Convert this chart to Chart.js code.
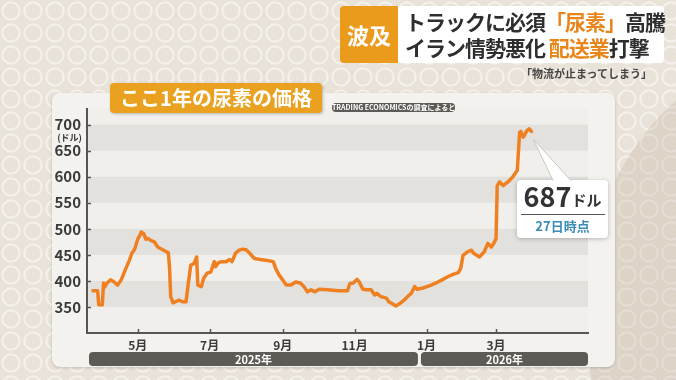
<!DOCTYPE html>
<html>
<head>
<meta charset="utf-8">
<script src="https://cdn.jsdelivr.net/npm/chart.js@4.4.1/dist/chart.umd.min.js"></script>
<style>
  html, body { margin: 0; padding: 0; }
  body {
    width: 676px; height: 380px; overflow: hidden; position: relative;
    font-family: "Noto Sans CJK JP", sans-serif;
    background-color: #e9e2d8;
    background-image: radial-gradient(circle, transparent 7px, rgba(255,255,255,.5) 8px, rgba(255,255,255,.5) 9px, transparent 10px);
    background-size: 22px 22px;
  }
  #side {
    position: absolute; left: 585px; top: 55px; width: 420px; height: 520px;
    border-radius: 50%; background: rgba(200,186,170,.35);
  }
  #panel {
    position: absolute; left: 52px; top: 93px; width: 563px; height: 274px;
    background: #f4f2ee; border-radius: 8px; box-shadow: 0 1px 3px rgba(0,0,0,.18);
  }
  #wrap { position: absolute; left: 0; top: 0; }
  #title {
    position: absolute; left: 110px; top: 83px; width: 212px; height: 30px;
    background: #e9a11f; border-radius: 4px; color: #fff;
    font-size: 20px; font-weight: bold; line-height: 30px; text-align: center;
    box-shadow: 1px 1px 3px rgba(0,0,0,.25);
  }
  #source {
    position: absolute; left: 332px; top: 103px; width: 123px; height: 9px;
    background: #5d5b56; border-radius: 4px; color: #fff;
    font-size: 7px; font-weight: bold; line-height: 9px; text-align: center; white-space: nowrap;
  }
  #tag {
    position: absolute; left: 340px; top: 6px; width: 58px; height: 57px;
    background: #eb9b1b; border-radius: 4px 0 0 4px; color: #fff;
    font-size: 22px; font-weight: bold; line-height: 57px; text-align: center;
  }
  #headline {
    position: absolute; left: 398px; top: 6px; width: 266px; height: 57px;
    background: #fff; border-radius: 0 4px 4px 0; color: #2e2e2e;
    font-size: 21px; font-weight: bold; line-height: 26px; letter-spacing: -1px;
    padding: 2px 0 0 7px; box-sizing: border-box; white-space: nowrap;
  }
  #headline .o { color: #e8861c; }
  #quote {
    position: absolute; right: 24px; top: 65px;
    font-size: 11px; font-weight: bold; color: #444; white-space: nowrap;
  }
</style>
</head>
<body>
<div id="side"></div>
<div id="panel"></div>
<div id="wrap"><canvas id="myChart" width="676" height="380"></canvas></div>
<div id="title">ここ1年の尿素の価格</div>
<div id="source">TRADING ECONOMICSの調査によると</div>
<div id="tag">波及</div>
<div id="headline">
  <div>トラックに必須<span class="o">「尿素」</span>高騰</div>
  <div>イラン情勢悪化 <span class="o">配送業</span>打撃</div>
</div>
<div id="quote">「物流が止まってしまう」</div>

<script>
const FONT = '"Noto Sans CJK JP", sans-serif';

const dates = [
  '2025-03-24','2025-03-28','2025-03-29','2025-04-01','2025-04-02','2025-04-03','2025-04-05','2025-04-08','2025-04-11','2025-04-14','2025-04-17','2025-04-21','2025-04-24','2025-04-26','2025-04-28','2025-04-29',
  '2025-05-01','2025-05-03','2025-05-04','2025-05-06','2025-05-08','2025-05-09','2025-05-12','2025-05-15','2025-05-18','2025-05-23','2025-05-27','2025-05-28','2025-05-29','2025-05-31',
  '2025-06-02','2025-06-05','2025-06-08','2025-06-11','2025-06-13','2025-06-15','2025-06-18','2025-06-20','2025-06-21','2025-06-24','2025-06-26','2025-06-29',
  '2025-07-02','2025-07-05','2025-07-06','2025-07-08','2025-07-11','2025-07-15','2025-07-18','2025-07-20','2025-07-23','2025-07-26','2025-07-29',
  '2025-08-01','2025-08-04','2025-08-08','2025-08-13','2025-08-19','2025-08-24','2025-08-26','2025-08-29',
  '2025-09-01','2025-09-04','2025-09-08','2025-09-12','2025-09-16','2025-09-19','2025-09-22','2025-09-25','2025-09-28',
  '2025-10-02','2025-10-09','2025-10-18','2025-10-26','2025-10-28','2025-10-31',
  '2025-11-03','2025-11-05','2025-11-08','2025-11-11','2025-11-15','2025-11-18','2025-11-20','2025-11-23','2025-11-28','2025-11-30',
  '2025-12-03','2025-12-06','2025-12-09','2025-12-13','2025-12-16','2025-12-19','2025-12-22','2025-12-24','2025-12-30',
  '2026-01-05','2026-01-10','2026-01-15','2026-01-19','2026-01-24','2026-01-28','2026-01-30',
  '2026-02-01','2026-02-05','2026-02-08','2026-02-10','2026-02-15','2026-02-19','2026-02-22','2026-02-25','2026-02-27',
  '2026-03-01','2026-03-02','2026-03-04','2026-03-07','2026-03-11','2026-03-15','2026-03-18','2026-03-19','2026-03-21','2026-03-22','2026-03-24','2026-03-25','2026-03-27','2026-03-29','2026-03-31'
];

// ドル / トン
const prices = [
  381, 381, 354, 354, 396, 388, 396, 402, 398, 392, 402, 424, 440, 453, 459, 465,
  480, 488, 494, 491, 480, 482, 478, 475, 465, 459, 454, 427, 370, 358,
  360, 363, 360, 360, 396, 430, 434, 446, 392, 389, 405, 415,
  417, 437, 427, 434, 437, 437, 441, 437, 453, 459, 461,
  460, 453, 443, 441, 439, 437, 424, 411,
  402, 392, 392, 398, 396, 389, 379, 383, 379,
  384, 383, 381, 381, 395, 396,
  403, 398, 384, 383, 383, 373, 376, 370, 367, 360,
  356, 352, 356, 363, 370, 376, 389, 384, 387,
  392, 397, 403, 408, 413, 416, 424,
  449, 456, 459, 453, 446, 456, 472, 465, 472,
  481, 583, 590, 583, 590, 599, 609, 612, 685, 687, 676, 679, 688, 692, 687
];

const monthTicks = ['2025-05-01','2025-07-01','2025-09-01','2025-11-01','2026-01-01','2026-03-01'];
const monthLabels = ['5月','7月','9月','11月','1月','3月'];
const yTicks = [350, 400, 450, 500, 550, 600, 650, 700];
const years = ['2025年', '2026年'];
const yearBreak = '2025-12-26';
const xRange = ['2025-03-19', '2026-05-18'];
const lastLabel = ['687', 'ドル', '27日時点'];

const dayNo = s => (Date.parse(s) - Date.parse('2025-01-01')) / 864e5;
const points = dates.map((d, i) => ({ x: dayNo(d), y: prices[i] }));

function roundRect(ctx, x, y, w, h, r) {
  ctx.beginPath();
  ctx.moveTo(x + r, y);
  ctx.arcTo(x + w, y, x + w, y + h, r);
  ctx.arcTo(x + w, y + h, x, y + h, r);
  ctx.arcTo(x, y + h, x, y, r);
  ctx.arcTo(x, y, x + w, y, r);
  ctx.closePath();
}

// grey stripes between every other tick
const bands = {
  id: 'bands',
  beforeDraw(chart) {
    const { ctx, chartArea: a, scales: { y } } = chart;
    ctx.save();
    ctx.fillStyle = '#f1efeb';
    ctx.fillRect(a.left, a.top, a.width, a.height);
    ctx.fillStyle = '#e3e1dd';
    for (let i = 0; i + 1 < yTicks.length; i += 2) {
      const top = y.getPixelForValue(yTicks[i + 1]);
      const bot = y.getPixelForValue(yTicks[i]);
      ctx.fillRect(a.left, top, a.width, bot - top);
    }
    ctx.restore();
  }
};

const deco = {
  id: 'deco',
  afterDraw(chart) {
    const { ctx, chartArea: a, scales: { x, y } } = chart;
    ctx.save();

    // inward tick marks
    ctx.strokeStyle = '#555';
    ctx.lineWidth = 1.5;
    ctx.beginPath();
    x.ticks.forEach(t => {
      const px = Math.round(x.getPixelForValue(t.value)) + 0.5;
      ctx.moveTo(px, a.bottom); ctx.lineTo(px, a.bottom - 4);
    });
    y.ticks.forEach(t => {
      const py = Math.round(y.getPixelForValue(t.value)) + 0.5;
      ctx.moveTo(a.left, py); ctx.lineTo(a.left + 4, py);
    });
    ctx.stroke();

    // unit under 700
    ctx.fillStyle = '#3a3a3a';
    ctx.font = 'bold 9px ' + FONT;
    ctx.textAlign = 'right';
    ctx.textBaseline = 'middle';
    ctx.fillText('(ドル)', a.left - 5, y.getPixelForValue(yTicks[yTicks.length - 1]) + 13);

    // year bars
    const br = x.getPixelForValue(dayNo(yearBreak));
    const spans = [[a.left + 2, br - 1.5], [br + 1.5, a.right]];
    ctx.font = 'bold 11px ' + FONT;
    ctx.textAlign = 'center';
    spans.forEach(([l, r], i) => {
      ctx.fillStyle = '#5d5b56';
      roundRect(ctx, l, a.bottom + 19, r - l, 14, 4);
      ctx.fill();
      ctx.fillStyle = '#fff';
      ctx.fillText(years[i], (l + r) / 2, a.bottom + 26.5);
    });

    // callout for the last value
    const last = chart.getDatasetMeta(0).data[points.length - 1];
    const bx = 517, by = 180, bw = 91, bh = 58;
    ctx.shadowColor = 'rgba(0,0,0,.25)';
    ctx.shadowBlur = 4;
    ctx.shadowOffsetY = 1;
    ctx.fillStyle = '#fff';
    ctx.strokeStyle = '#c9c7c3';
    ctx.lineWidth = 1;
    roundRect(ctx, bx, by, bw, bh, 4);
    ctx.fill();
    ctx.shadowColor = 'transparent';
    ctx.beginPath();
    ctx.moveTo(last.x + 2, last.y + 8);
    ctx.lineTo(bx + 54, by + 1);
    ctx.lineTo(bx + 36, by + 1);
    ctx.closePath();
    ctx.fill();
    ctx.beginPath();
    ctx.moveTo(bx + 36, by + 0.5);
    ctx.lineTo(last.x + 2, last.y + 8);
    ctx.lineTo(bx + 54, by + 0.5);
    ctx.stroke();

    ctx.fillStyle = '#333';
    ctx.textBaseline = 'alphabetic';
    ctx.textAlign = 'left';
    ctx.font = 'bold 27px ' + FONT;
    const w1 = ctx.measureText(lastLabel[0]).width;
    ctx.font = 'bold 15px ' + FONT;
    const w2 = ctx.measureText(lastLabel[1]).width;
    const sx = bx + (bw - w1 - w2) / 2;
    ctx.font = 'bold 27px ' + FONT;
    ctx.fillText(lastLabel[0], sx, by + 27);
    ctx.font = 'bold 15px ' + FONT;
    ctx.fillText(lastLabel[1], sx + w1, by + 26);

    ctx.strokeStyle = '#555';
    ctx.beginPath();
    ctx.moveTo(bx + 4, by + 34.5); ctx.lineTo(bx + bw - 3, by + 34.5);
    ctx.stroke();

    ctx.fillStyle = '#3b8db5';
    ctx.font = 'bold 13px ' + FONT;
    ctx.textAlign = 'center';
    ctx.textBaseline = 'middle';
    ctx.fillText(lastLabel[2], bx + bw / 2, by + 46);

    ctx.restore();
  }
};

const ctx = document.getElementById('myChart');
new Chart(ctx, {
  type: 'line',
  data: {
    datasets: [{
      data: points,
      borderColor: '#ef8022',
      borderWidth: 3.5,
      pointRadius: 0,
      tension: 0,
      borderJoinStyle: 'round',
      borderCapStyle: 'round'
    }]
  },
  options: {
    responsive: false,
    animation: false,
    layout: { padding: { left: 25, right: 88, top: 109, bottom: 0 } },
    plugins: { legend: { display: false }, tooltip: { enabled: false } },
    scales: {
      x: {
        type: 'linear',
        min: dayNo(xRange[0]),
        max: dayNo(xRange[1]),
        afterBuildTicks: s => { s.ticks = monthTicks.map(d => ({ value: dayNo(d) })); },
        afterFit: s => { s.height = 47; },
        grid: { display: false, drawTicks: false },
        border: { color: '#555', width: 2 },
        ticks: {
          autoSkip: false, maxRotation: 0, padding: 5, color: '#3a3a3a',
          font: { family: FONT, size: 12, weight: 'bold' },
          callback: (v, i) => monthLabels[i]
        }
      },
      y: {
        min: 300,
        max: 730,
        afterBuildTicks: s => { s.ticks = yTicks.map(v => ({ value: v })); },
        afterFit: s => { s.width = 62; },
        grid: { display: false, drawTicks: false },
        border: { color: '#555', width: 2 },
        ticks: {
          padding: 6, color: '#3a3a3a',
          font: { family: FONT, size: 15, weight: 'bold' }
        }
      }
    }
  },
  plugins: [bands, deco]
});
</script>
</body>
</html>
